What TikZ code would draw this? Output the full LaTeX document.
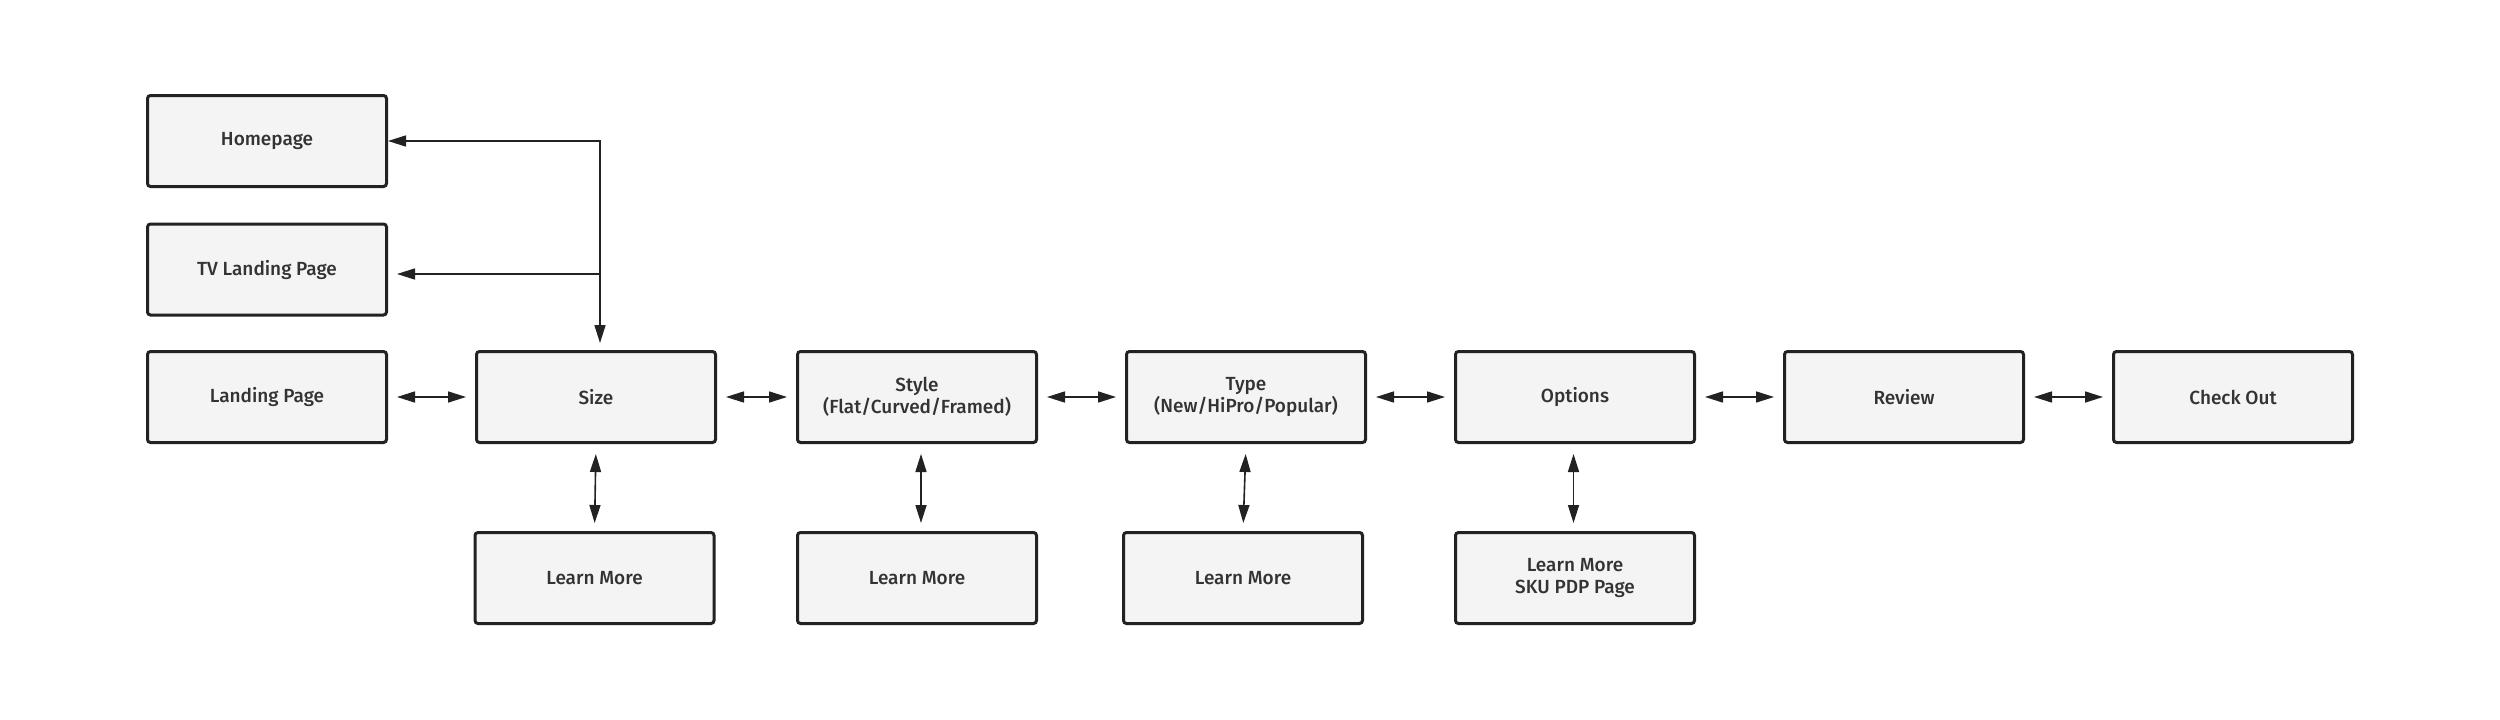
\documentclass[tikz,border=0pt]{standalone}
\usepackage{fontspec}
\setmainfont{Fira Sans Medium}
\usetikzlibrary{arrows.meta}
\definecolor{boxfill}{HTML}{F4F4F4}
\definecolor{boxline}{HTML}{222222}
\definecolor{txt}{HTML}{333333}
\begin{document}
\begin{tikzpicture}[x=1pt,y=-1pt,
  card/.style={draw=boxline, line width=3pt, fill=boxfill, rounded corners=3pt,
    minimum width=239pt, minimum height=91pt, inner sep=0pt, align=center,
    text=txt, font=\fontsize{19}{22}\selectfont},
  link/.style={draw=boxline, line width=1.6pt},
  tip/.tip={Triangle[length=18pt,width=11pt]},
  both/.style={link, {tip}-{tip}},
  one/.style={link, -{tip}}]
\useasboundingbox (0,0) rectangle (2500,720);
\fill[white] (0,0) rectangle (2500,720);
% nodes
\node[card] (home) at (267,141) {Homepage};
\node[card] (tv) at (267,269.5) {TV Landing Page};
\node[card] (lp) at (267,397) {Landing Page};
\node[card] (size) at (596,397) {Size};
\node[card] (style) at (917,397) {Style\\(Flat/Curved/Framed)};
\node[card] (type) at (1246,397) {Type\\(New/HiPro/Popular)};
\node[card] (opt) at (1575,397) {Options};
\node[card] (rev) at (1904,397) {Review};
\node[card] (co) at (2233,397) {Check Out};
\node[card] (lm1) at (594.5,578) {Learn More};
\node[card] (lm2) at (917,578) {Learn More};
\node[card] (lm3) at (1243,578) {Learn More};
\node[card] (lm4) at (1575,578) {Learn More\\SKU PDP Page};
% horizontal links
\draw[both, shorten <=9pt, shorten >=9pt] (lp.east) -- (size.west);
\draw[both, shorten <=9pt, shorten >=9pt] (size.east) -- (style.west);
\draw[both, shorten <=9pt, shorten >=9pt] (style.east) -- (type.west);
\draw[both, shorten <=9pt, shorten >=9pt] (type.east) -- (opt.west);
\draw[both, shorten <=9pt, shorten >=9pt] (opt.east) -- (rev.west);
\draw[both, shorten <=9pt, shorten >=9pt] (rev.east) -- (co.west);
% vertical links
\draw[both, shorten <=10pt, shorten >=8pt] (size.south) -- (lm1.north);
\draw[both, shorten <=10pt, shorten >=8pt] ([xshift=4pt]style.south) -- ([xshift=4pt]lm2.north);
\draw[both, shorten <=10pt, shorten >=8pt] (type.south) -- (lm3.north);
\draw[both, shorten <=10pt, shorten >=8pt] ([xshift=-1.5pt]opt.south) -- ([xshift=-1.5pt]lm4.north);
% top links
\coordinate (top) at (600,141);
\coordinate (tvj) at (600,274);
\draw[both, shorten >=7pt] (home.east) -- (top) -- (top |- size.north);
\draw[one, shorten >=9pt] (tvj) -- (tvj -| tv.east);
\end{tikzpicture}
\end{document}
